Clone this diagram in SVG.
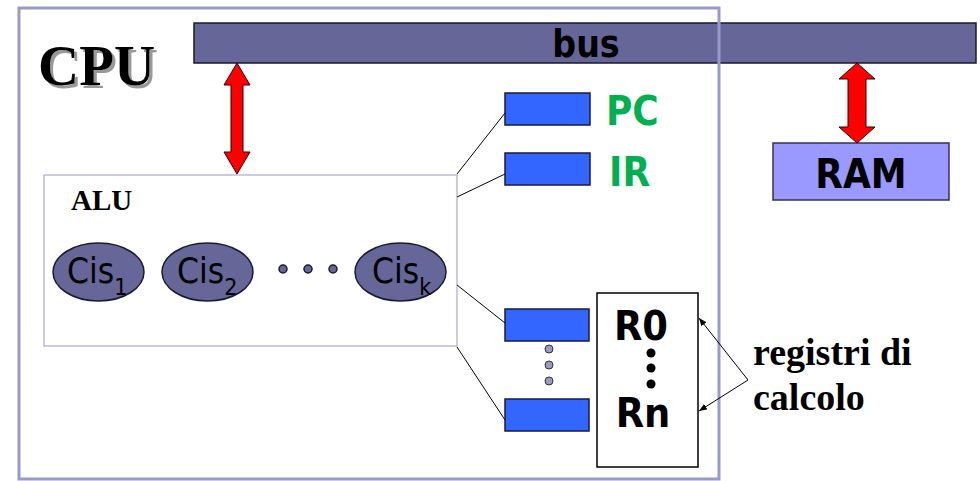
<svg xmlns="http://www.w3.org/2000/svg" width="980" height="481" viewBox="0 0 980 481">
<defs>
<style>
.sans{font-family:"DejaVu Sans Condensed","DejaVu Sans",Verdana,sans-serif;}
.serif{font-family:"Liberation Serif","Times New Roman",serif;font-weight:bold;}
.reg{fill:#3366FF;stroke:#1a1a40;stroke-width:1.5;}
.cis{fill:#666699;stroke:#1a1a33;stroke-width:1.5;}
.dbl{fill:#FF0000;stroke:#330000;stroke-width:1;}
.conn{stroke:#000;stroke-width:1;fill:none;}
</style>
<filter id="shadow" x="-10%" y="-20%" width="130%" height="150%">
<feOffset in="SourceAlpha" dx="3" dy="3" result="off"/>
<feFlood flood-color="#999999"/>
<feComposite in2="off" operator="in" result="sh"/>
<feMerge><feMergeNode in="sh"/><feMergeNode in="SourceGraphic"/></feMerge>
</filter>
<marker id="ah" viewBox="0 0 10 10" refX="10" refY="5" markerWidth="8" markerHeight="8" orient="auto" markerUnits="userSpaceOnUse">
<path d="M0,1 L10,5 L0,9 z" fill="#000"/>
</marker>
</defs>
<rect width="980" height="481" fill="#fff"/>

<g id="bus">
<rect x="194" y="23" width="782" height="40" fill="#666699" stroke="#1a1a33" stroke-width="1.5"/>
<text x="586" y="57" class="sans" font-size="37" font-weight="bold" text-anchor="middle" fill="#000">bus</text>
</g>

<g id="cpu">
<rect x="19" y="8" width="700" height="471" fill="none" stroke="#9999CC" stroke-width="3"/>
<text x="38" y="85" class="serif" font-size="57" fill="#000" filter="url(#shadow)">CPU</text>
</g>

<g id="alu">
<rect x="44" y="175" width="413" height="171" fill="#fff" stroke="#9999CC" stroke-width="1"/>
<text x="71" y="210" class="serif" font-size="29" fill="#000">ALU</text>
</g>

<g id="cis1">
<ellipse cx="98.5" cy="272" rx="45.5" ry="29" class="cis"/>
<text x="67" y="283" class="sans" font-size="35" fill="#000">Cis<tspan font-size="23" dy="12">1</tspan></text>
</g>
<g id="cis2">
<ellipse cx="207.5" cy="272" rx="45.5" ry="29" class="cis"/>
<text x="177" y="283" class="sans" font-size="35" fill="#000">Cis<tspan font-size="23" dy="12">2</tspan></text>
</g>
<g id="alu-dots">
<circle cx="283" cy="269" r="4" class="cis"/>
<circle cx="308" cy="269" r="4" class="cis"/>
<circle cx="333" cy="269" r="4" class="cis"/>
</g>
<g id="cisk">
<ellipse cx="400.5" cy="272" rx="45.5" ry="29" class="cis"/>
<text x="372" y="283" class="sans" font-size="35" fill="#000">Cis<tspan font-size="23" dy="12">k</tspan></text>
</g>

<g id="pc">
<rect x="505" y="93" width="85" height="32" class="reg"/>
<text x="606" y="125" class="sans" font-size="40" font-weight="bold" fill="#00B050">PC</text>
</g>
<g id="ir">
<rect x="505" y="153" width="85" height="32" class="reg"/>
<text x="609" y="186" class="sans" font-size="40" font-weight="bold" fill="#00B050">IR</text>
</g>
<g id="r-reg0">
<rect x="505" y="309" width="84" height="32" class="reg"/>
</g>
<g id="reg-dots">
<circle cx="549" cy="349" r="4" fill="#9999CC" stroke="#333" stroke-width="1"/>
<circle cx="549" cy="365" r="4" fill="#9999CC" stroke="#333" stroke-width="1"/>
<circle cx="549" cy="381" r="4" fill="#9999CC" stroke="#333" stroke-width="1"/>
</g>
<g id="r-regn">
<rect x="505" y="399" width="84" height="32" class="reg"/>
</g>

<g id="rbox">
<rect x="597" y="293" width="101" height="174" fill="#fff" stroke="#000" stroke-width="1.5"/>
<text x="641" y="340" class="sans" font-size="41" font-weight="bold" text-anchor="middle" fill="#000">R0</text>
<circle cx="651" cy="353" r="4.5" fill="#000"/>
<circle cx="651" cy="368" r="4.5" fill="#000"/>
<circle cx="651" cy="384" r="4.5" fill="#000"/>
<text x="643" y="427" class="sans" font-size="41" font-weight="bold" text-anchor="middle" fill="#000">Rn</text>
</g>

<g id="ram">
<rect x="773" y="143" width="176" height="57" fill="#9999FF" stroke="#333355" stroke-width="1.5"/>
<text x="861" y="188" class="sans" font-size="40" font-weight="bold" text-anchor="middle" fill="#000">RAM</text>
</g>

<g id="label-registri">
<text x="753" y="365" class="serif" font-size="38" fill="#000">registri di</text>
<text x="753" y="410" class="serif" font-size="38" fill="#000">calcolo</text>
</g>

<g id="connectors">
<path class="dbl" d="M237,63 L250,85 L243,85 L243,152 L250,152 L237,174 L224,152 L231,152 L231,85 L224,85 Z"/>
<path class="dbl" d="M857,63 L875,79 L866,79 L866,127 L875,127 L857,143 L839,127 L848,127 L848,79 L839,79 Z"/>
<line class="conn" x1="457" y1="174" x2="505" y2="113"/>
<line class="conn" x1="457" y1="197" x2="505" y2="174"/>
<line class="conn" x1="457" y1="285" x2="505" y2="323"/>
<line class="conn" x1="457" y1="347" x2="505" y2="420"/>
<line class="conn" x1="748" y1="380" x2="699" y2="318" marker-end="url(#ah)"/>
<line class="conn" x1="748" y1="380" x2="699" y2="411" marker-end="url(#ah)"/>
</g>
</svg>
